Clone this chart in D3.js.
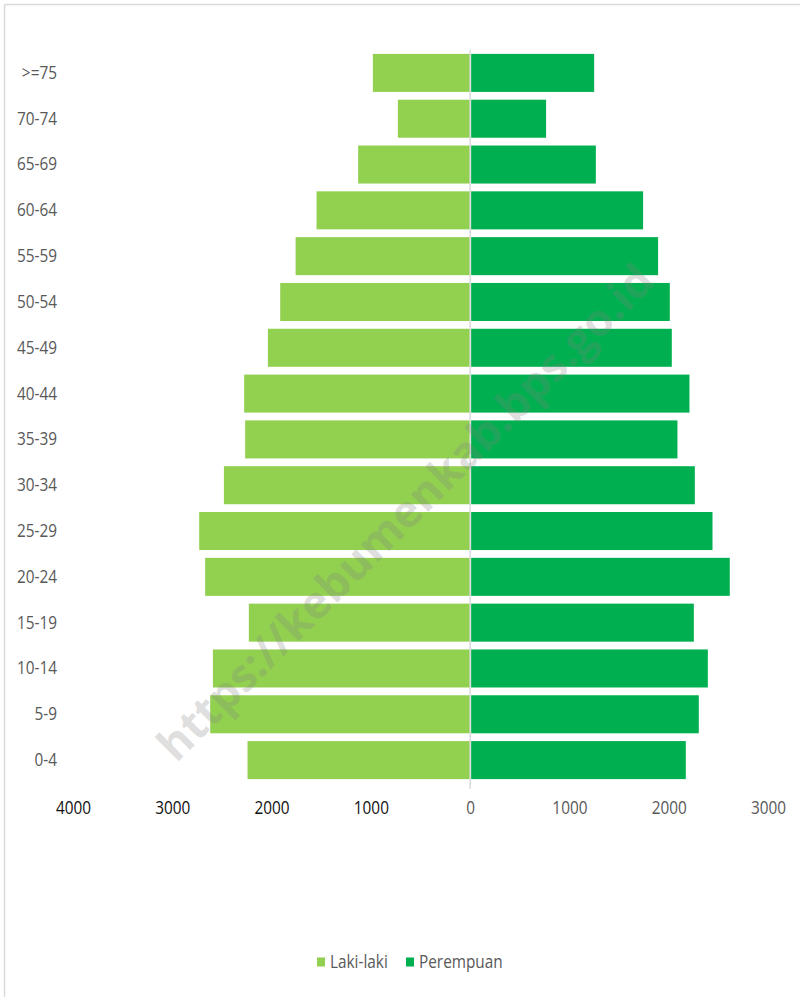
<!DOCTYPE html>
<html>
<head>
<meta charset="utf-8">
<script src="https://cdn.jsdelivr.net/npm/d3@7"></script>
<style>
  body { margin: 0; background: #fff; }
  text { font-family: "Open Sans", sans-serif; }
</style>
</head>
<body>
<script>
// age groups, top to bottom
var ageGroups = [">=75", "70-74", "65-69", "60-64", "55-59", "50-54", "45-49", "40-44",
                 "35-39", "30-34", "25-29", "20-24", "15-19", "10-14", "5-9", "0-4"];
var lakiLaki = [980, 728, 1128, 1547, 1758, 1913, 2037, 2276,
                2266, 2480, 2729, 2669, 2229, 2591, 2618, 2242];
var perempuan = [1249, 765, 1266, 1742, 1893, 2011, 2031, 2209,
                 2088, 2263, 2441, 2615, 2253, 2394, 2303, 2172];
var tickValues = [-4000, -3000, -2000, -1000, 0, 1000, 2000, 3000];
var seriesNames = ["Laki-laki", "Perempuan"];
var colors = ["#92D050", "#00B050"];

var w = 800, h = 997;
var narrow = 0.83; // squeeze text horizontally, Calibri-like

var svg = d3.select("body").append("svg")
    .attr("width", w)
    .attr("height", h);

// chart frame (only top + left edges visible)
svg.append("line").attr("x1", 4.5).attr("x2", w).attr("y1", 4.5).attr("y2", 4.5)
    .attr("stroke", "#d9d9d9").attr("stroke-width", 1.5);
svg.append("line").attr("x1", 4.5).attr("x2", 4.5).attr("y1", 4.5).attr("y2", h)
    .attr("stroke", "#d9d9d9").attr("stroke-width", 1.5);

//Create scale functions
var xScale = d3.scaleLinear()
    .domain([-4000, 3000])
    .range([73, 768]);
var yScale = d3.scaleBand()
    .domain(ageGroups)
    .range([50, 783])
    .paddingInner(0.17)
    .paddingOuter(0.085);

// male bars (left)
svg.selectAll("rect.laki")
    .data(lakiLaki)
    .enter()
    .append("rect")
    .attr("class", "laki")
    .attr("x", function (d) { return xScale(-d); })
    .attr("y", function (d, i) { return yScale(ageGroups[i]); })
    .attr("width", function (d) { return xScale(0) - xScale(-d); })
    .attr("height", yScale.bandwidth())
    .attr("fill", colors[0]);

// female bars (right)
svg.selectAll("rect.perempuan")
    .data(perempuan)
    .enter()
    .append("rect")
    .attr("class", "perempuan")
    .attr("x", xScale(0) + 1)
    .attr("y", function (d, i) { return yScale(ageGroups[i]); })
    .attr("width", function (d) { return xScale(d) - xScale(0) - 1; })
    .attr("height", yScale.bandwidth())
    .attr("fill", colors[1]);

// zero line
svg.append("line")
    .attr("x1", xScale(0)).attr("x2", xScale(0))
    .attr("y1", 50).attr("y2", 789)
    .attr("stroke", "#d9d9d9").attr("stroke-width", 1.5);

// category axis
var yAxis = d3.axisLeft(yScale).tickSize(0).tickPadding(0);
var gy = svg.append("g")
    .attr("transform", "translate(57,0)")
    .call(yAxis);
gy.select(".domain").remove();
gy.selectAll("text")
    .attr("font-size", "18.5px")
    .attr("font-family", "Open Sans, sans-serif")
    .attr("transform", "scale(" + narrow + ",1)")
    .attr("fill", "#595959");

// value axis
var xAxis = d3.axisBottom(xScale)
    .tickValues(tickValues)
    .tickSize(0)
    .tickPadding(0)
    .tickFormat(function (d) { return Math.abs(d); });
var gx = svg.append("g")
    .attr("transform", "translate(0,801)")
    .call(xAxis);
gx.select(".domain").remove();
gx.selectAll("text")
    .attr("font-size", "18.5px")
    .attr("font-family", "Open Sans, sans-serif")
    .attr("transform", "scale(" + narrow + ",1)")
    .attr("fill", function (d) { return d < 0 ? "#111" : "#595959"; });

// watermark
svg.append("text")
    .attr("transform", "translate(408,515) rotate(-45)")
    .attr("text-anchor", "middle")
    .attr("dominant-baseline", "middle")
    .attr("font-family", "Liberation Sans, Arial, sans-serif")
    .attr("font-weight", "bold")
    .attr("font-size", "45px")
    .attr("fill", "#808080")
    .attr("fill-opacity", 0.25)
    .text("https://kebumenkab.bps.go.id");

// legend
var legendX = [317, 406];
var legend = svg.selectAll("g.legend")
    .data(seriesNames)
    .enter()
    .append("g")
    .attr("class", "legend")
    .attr("transform", function (d, i) { return "translate(" + legendX[i] + ",962)"; });
legend.append("rect")
    .attr("x", 0).attr("y", -4.5)
    .attr("width", 8).attr("height", 9)
    .attr("fill", function (d, i) { return colors[i]; });
legend.append("text")
    .attr("x", 13 / narrow)
    .attr("dy", "0.35em")
    .attr("font-size", "18.5px")
    .attr("transform", "scale(" + narrow + ",1)")
    .attr("fill", "#595959")
    .text(function (d) { return d; });
</script>
</body>
</html>
